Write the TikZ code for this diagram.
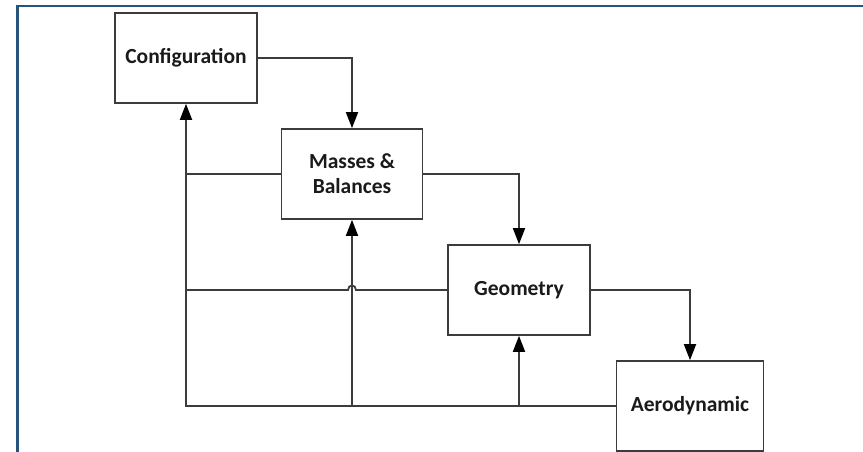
\documentclass[tikz,border=0pt]{standalone}
\usepackage{fontspec}
\setmainfont{Carlito}
\usetikzlibrary{arrows.meta}
\definecolor{framec}{RGB}{38,84,124}
\definecolor{linec}{RGB}{60,60,60}
\definecolor{textc}{RGB}{26,26,26}
\begin{document}
\begin{tikzpicture}[x=1pt,y=-1pt,
  block/.style={draw=linec,line width=1.7pt,fill=white,minimum width=#1,minimum height=90pt,
    inner sep=0pt,align=center,text=textc,font=\fontsize{21.5}{25}\selectfont\bfseries},
  block/.default=142pt,
  link/.style={draw=linec,line width=1.8pt},
  arr/.style={link,-{Triangle[length=16pt,width=12pt,color=black]}}]
  \useasboundingbox (0,0) rectangle (863,452);
  % page frame
  \draw[framec,line width=2.2pt] (17.5,452) -- (17.5,6) -- (863,6);

  % blocks
  \node[block] (config) at (186,58) {Configuration};
  \node[block=141pt] (mass) at (352,174) {Masses \&\\Balances};
  \node[block] (geom) at (519,290) {Geometry};
  \node[block=147pt] (aero) at (690,406) {Aerodynamic};

  % forward chain
  \draw[arr] (config.east) -| (mass.north);
  \draw[arr] (mass.east) -| (geom.north);
  \draw[arr] (geom.east) -| (aero.north);

  % feedback bus
  \draw[arr] (aero.west) -| (config.south);
  \draw[link] (mass.west) -- (mass.west -| config.south);
  \draw[link] (geom.west) -- ([xshift=4pt]geom.west -| mass.south)
     .. controls +(0,-6) and +(0,-6) .. ([xshift=-4pt]geom.west -| mass.south)
     -- (geom.west -| config.south);
  \draw[arr] (aero.west -| mass.south) -- (mass.south);
  \draw[arr] (aero.west -| geom.south) -- (geom.south);
\end{tikzpicture}
\end{document}
